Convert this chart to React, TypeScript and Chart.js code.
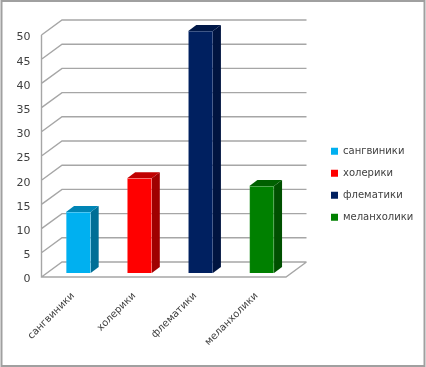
import React, { useEffect, useRef } from "react";
import { Chart, registerables } from "chart.js";

Chart.register(...registerables);

const categories = ["сангвиники", "холерики", "флематики", "меланхолики"];
const values = [12.6, 19.6, 50, 18];
const yMax = 50;
const yStep = 5;
const frontColors = ["#00B0F0", "#FF0000", "#002060", "#008000"];
const edgeColors = ["#33C0F3", "#FF3333", "#002060", "#40A040"];
const topColors = ["#0085B5", "#C00000", "#001848", "#006000"];
const sideColors = ["#006E96", "#A00000", "#001440", "#005000"];

const TEXT = "#404040";
const GRID = "#A6A6A6";
const FONT = "'DejaVu Sans', sans-serif";

const wallDx = 20.5;
const wallDy = -15;
const barDx = 6.3;
const barDy = -4;
const depthX = 8;
const depthY = -6;
const legendWidth = 105;
const legendShiftX = 33;
const legendShiftY = 0.7;
const plotRightGap = 35;

const shiftDraw = (obj: any, method: string, dx: number, dy: number) => {
  const original = obj[method];
  obj[method] = function (...args: any[]) {
    this.ctx.save();
    this.ctx.translate(dx, dy);
    original.apply(this, args);
    this.ctx.restore();
  };
};

const scene = {
  id: "scene",
  beforeLayout(chart: any) {
    const l = chart.legend;
    if (!l || l.__patched) return;
    l.__patched = true;
    const fit = l.fit;
    l.fit = function () {
      fit.call(this);
      this.width = legendWidth;
    };
    shiftDraw(l, "draw", legendShiftX, legendShiftY);
    shiftDraw(chart.scales.y, "drawLabels", 0, 2.5);
    shiftDraw(chart.scales.x, "drawLabels", 1, 0);
  },
  beforeDraw(chart: any) {
    const { ctx } = chart;
    ctx.save();
    ctx.fillStyle = "#fff";
    ctx.fillRect(0, 0, chart.width, chart.height);
    ctx.strokeStyle = "#A0A0A0";
    ctx.lineWidth = 2;
    ctx.strokeRect(1.5, 1, chart.width - 3, chart.height - 2);
    ctx.restore();
  },
  beforeDatasetsDraw(chart: any) {
    const { ctx, chartArea: a } = chart;
    const y = chart.scales.y;
    ctx.save();
    ctx.strokeStyle = GRID;
    ctx.lineWidth = 1.4;
    ctx.beginPath();
    for (const t of y.ticks) {
      const py = y.getPixelForValue(t.value);
      ctx.moveTo(a.left, py);
      ctx.lineTo(a.left + wallDx, py + wallDy);
      ctx.lineTo(a.right + wallDx, py + wallDy);
    }
    ctx.moveTo(a.left, a.top);
    ctx.lineTo(a.left, a.bottom);
    ctx.lineTo(a.right, a.bottom);
    ctx.lineTo(a.right + wallDx, a.bottom + wallDy);
    ctx.stroke();
    ctx.restore();

    const meta = chart.getDatasetMeta(0);
    ctx.save();
    ctx.translate(barDx, barDy);
    meta.data.forEach((bar: any, i: number) => {
      const l = bar.x - bar.width / 2;
      const r = bar.x + bar.width / 2;
      const t = bar.y;
      const b = bar.base;
      ctx.fillStyle = sideColors[i];
      ctx.beginPath();
      ctx.moveTo(r, t);
      ctx.lineTo(r + depthX, t + depthY);
      ctx.lineTo(r + depthX, b + depthY);
      ctx.lineTo(r, b);
      ctx.closePath();
      ctx.fill();
      ctx.fillStyle = topColors[i];
      ctx.beginPath();
      ctx.moveTo(l, t);
      ctx.lineTo(l + depthX, t + depthY);
      ctx.lineTo(r + depthX, t + depthY);
      ctx.lineTo(r, t);
      ctx.closePath();
      ctx.fill();
    });
    ctx.restore();
    ctx.save();
    ctx.translate(barDx, barDy);
  },
  afterDatasetsDraw(chart: any) {
    chart.ctx.restore();
  },
};

export default function App() {
  const ref = useRef<HTMLCanvasElement>(null);
  useEffect(() => {
    document.body.style.margin = "0";
    const chart = new Chart(ref.current!, {
      type: "bar",
      data: {
        labels: categories,
        datasets: [
          {
            data: values,
            backgroundColor: frontColors,
            borderColor: edgeColors,
            borderWidth: 0.6,
            barPercentage: 0.403,
            categoryPercentage: 1,
            clip: false,
          } as any,
        ],
      },
      options: {
        responsive: false,
        animation: false,
        layout: { padding: { right: plotRightGap } },
        plugins: {
          tooltip: { enabled: false },
          legend: {
            position: "right",
            onClick: () => {},
            labels: {
              boxWidth: 7,
              boxHeight: 7,
              padding: 12,
              color: TEXT,
              font: { family: FONT, size: 10 },
              generateLabels: () =>
                categories.map((text, i) => ({
                  text,
                  fillStyle: frontColors[i],
                  strokeStyle: frontColors[i],
                  fontColor: TEXT,
                  lineWidth: 0,
                  hidden: false,
                  index: i,
                })),
            },
          },
        },
        scales: {
          x: {
            grid: { display: false, drawTicks: false },
            border: { display: false },
            ticks: {
              color: TEXT,
              font: { family: FONT, size: 10 },
              minRotation: 45,
              maxRotation: 45,
              padding: 13,
            },
            afterCalculateLabelRotation: (s: any) => {
              s.labelRotation = 45;
            },
            afterFit: (s: any) => {
              s.height = 90;
            },
          },
          top: {
            type: "category",
            position: "top",
            grid: { display: false, drawTicks: false },
            border: { display: false },
            ticks: { display: false },
            afterFit: (s: any) => {
              s.height = 35;
            },
          },
          y: {
            min: 0,
            max: yMax,
            grid: { display: false, drawTicks: false },
            border: { display: false },
            ticks: {
              stepSize: yStep,
              color: TEXT,
              font: { family: FONT, size: 11 },
              padding: 11,
            },
            afterFit: (s: any) => {
              s.width = 41.5;
            },
          },
        },
      } as any,
      plugins: [scene],
    });
    return () => chart.destroy();
  }, []);
  return <canvas ref={ref} width={426} height={367} style={{ display: "block" }} />;
}
